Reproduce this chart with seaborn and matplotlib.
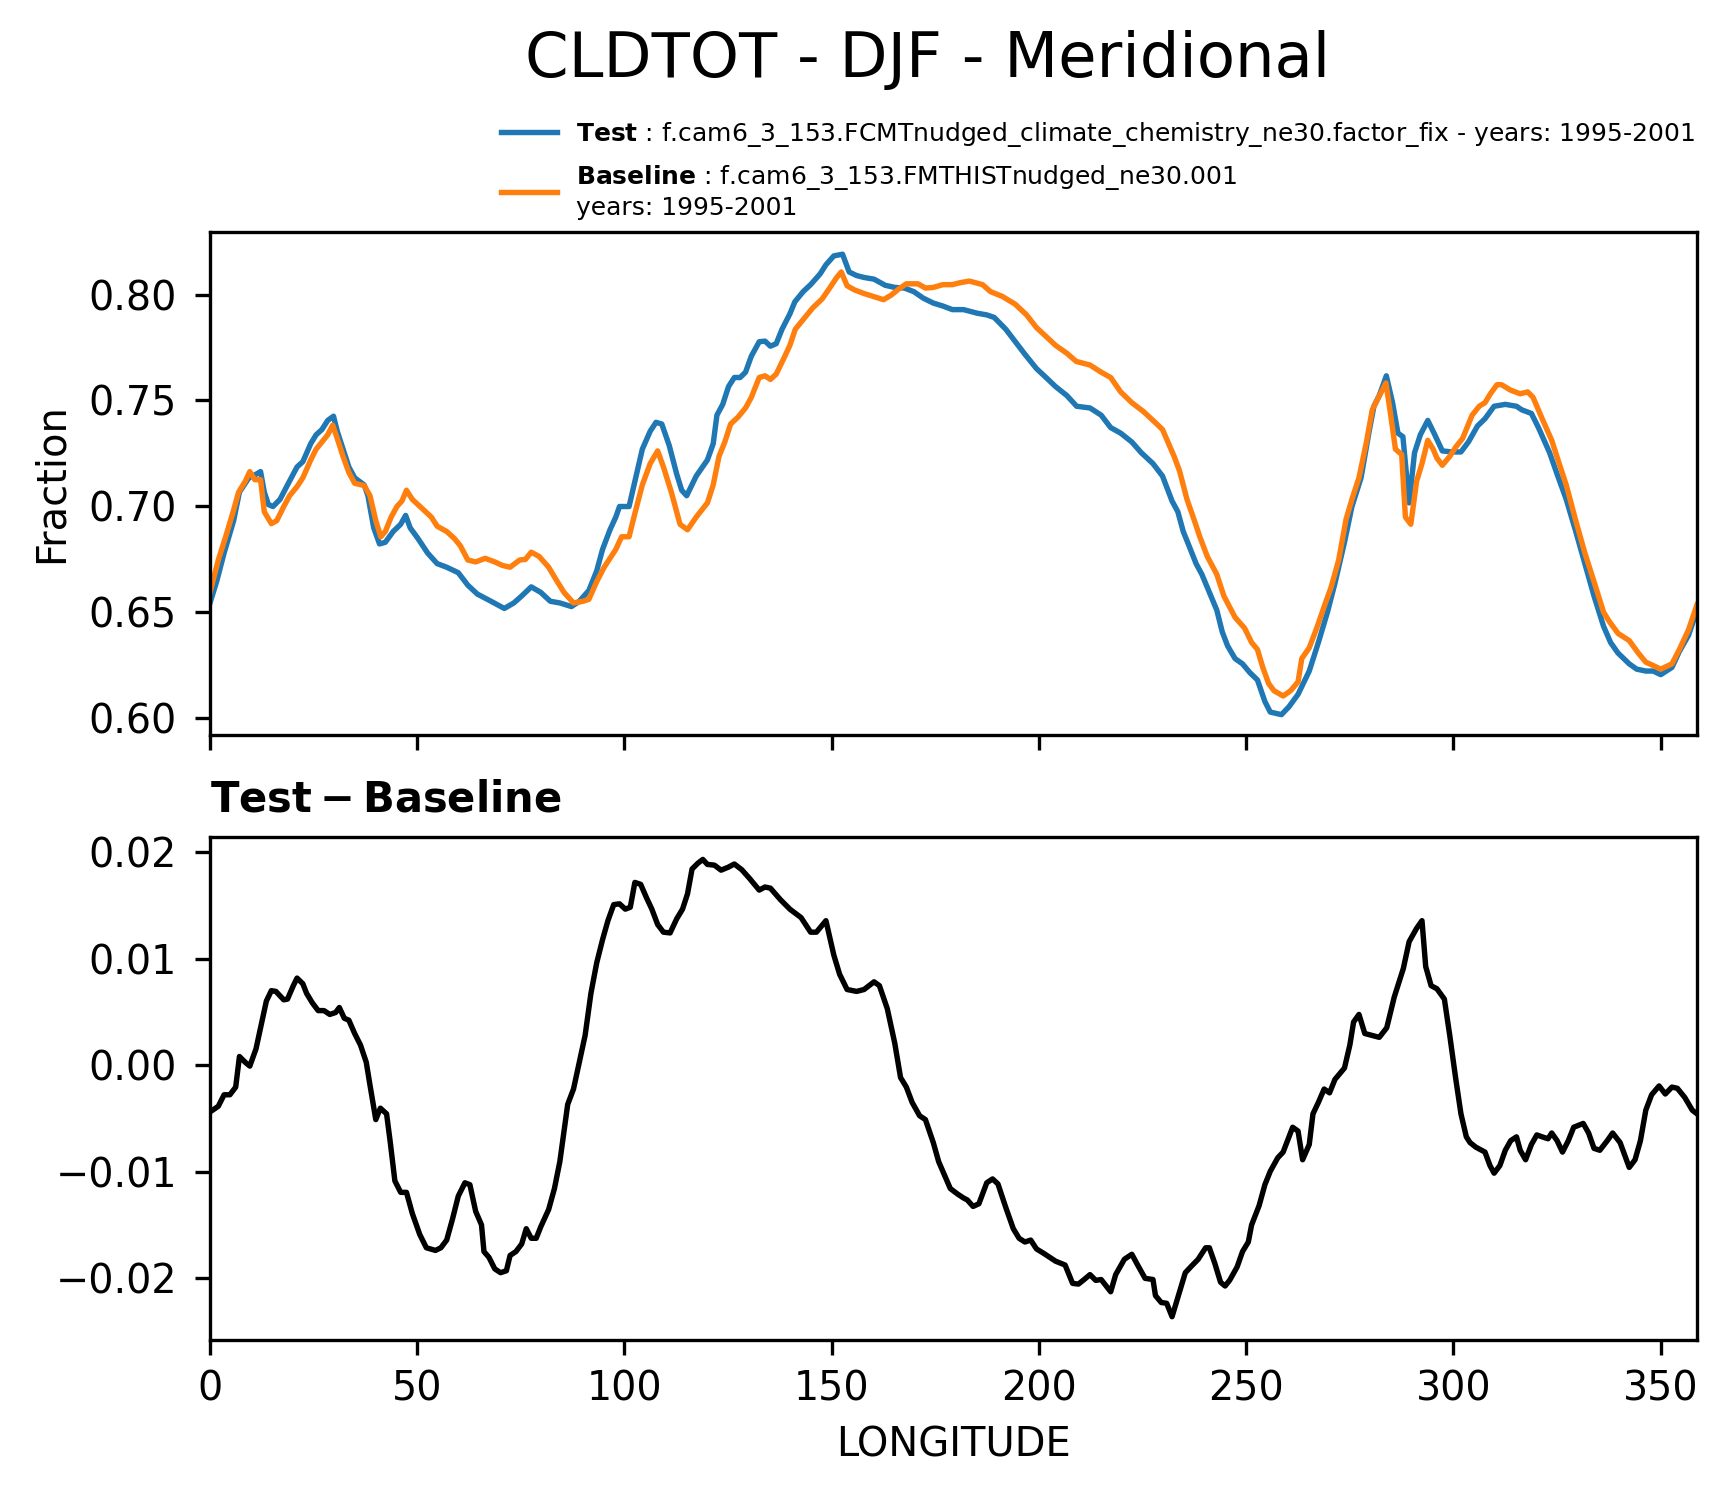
import numpy as np
import pandas as pd
import matplotlib
matplotlib.use("Agg")
import matplotlib.pyplot as plt
import seaborn as sns

# ---------------- data ----------------
test_lon = [0, 1.6, 3.4, 5.7, 7.1, 9.4, 10.8, 12.2, 13.1, 14.1, 15.2, 16.9, 18.7, 21.0, 22.4, 24.3, 25.6,
            27.0, 28.4, 29.8, 30.7, 32.1, 33.5, 34.9, 37.2, 38.1, 39.5, 40.9, 42.3, 44.2, 46.0, 47.2, 48.3,
            50.2, 52.5, 54.8, 57.1, 59.9, 62.2, 64.5, 67.8, 71.0, 73.3, 75.2, 77.5, 79.8, 82.1, 84.4, 87.2,
            89.1, 91.4,
            93.3, 94.7, 96.5, 97.9, 98.8, 101.1, 102.5, 104.3, 106.2, 107.6, 109.0, 110.8, 112.6, 113.8,
            115.0, 117.3, 120.0, 121.4, 122.3, 123.7, 125.1, 126.5, 127.9, 129.2, 130.6, 132.5, 133.9, 135.2,
            136.6, 138.0, 139.9, 141.1, 143.1, 144.9, 147.2, 148.6, 150.5, 152.6, 154.2, 156.0, 157.8, 160.2,
            162.9, 165.2, 167.5, 169.8, 172.1, 174.5, 176.8, 179.1, 181.8, 185.1, 187.4, 189.2, 192.0, 194.3,
            196.6, 199.4, 201.7, 204.0, 206.7, 209.1, 212.3, 215.0, 217.3, 219.7, 222.4, 224.7, 227.5, 229.8,
            232.1, 233.5, 234.8, 236.2, 237.9, 239.3, 241.1, 242.9, 244.2, 245.5, 247.3, 249.1, 250.9, 252.7,
            254.5, 255.8, 258.5, 260.3, 262.5, 265.2, 267.4, 269.6, 271.4, 273.7, 275.5, 277.7, 279.5, 280.8,
            282.1, 283.8, 285.3, 286.6, 287.8, 289.3, 290.6, 292.0, 293.8, 295.5, 297.3, 299.6, 301.8, 303.6,
            305.8, 307.6, 309.8, 312.5, 315.2, 316.5, 318.8, 320.5, 323.2, 325.0, 327.2, 329.5, 331.7, 333.9,
            336.2, 337.9, 339.7, 342.4, 344.2, 346.4, 348.2, 350.0, 352.7, 354.5, 356.7, 358.75]
test_frac = [0.6542, 0.6643, 0.6778, 0.6931, 0.7066, 0.7134, 0.7147, 0.7163, 0.7066, 0.7007, 0.6998, 0.7032,
             0.7100, 0.7185, 0.7210, 0.7295, 0.7337, 0.7362, 0.7405, 0.7425, 0.7354, 0.7269, 0.7185, 0.7134,
             0.7100, 0.7049, 0.6897, 0.6821, 0.6829, 0.6880, 0.6914, 0.6956, 0.6897, 0.6846, 0.6778, 0.6728,
             0.6711, 0.6685, 0.6626, 0.6584, 0.6550, 0.6516, 0.6542, 0.6575, 0.6618, 0.6592, 0.6550, 0.6542,
             0.6525, 0.6550, 0.6601,
             0.6694, 0.6795, 0.6888, 0.6948, 0.6998, 0.6998, 0.7117, 0.7269, 0.7354, 0.7396, 0.7388, 0.7286,
             0.7151, 0.7075, 0.7049, 0.7142, 0.7218, 0.7295, 0.7430, 0.7481, 0.7565, 0.7608, 0.7608, 0.7633,
             0.7709, 0.7777, 0.7780, 0.7756, 0.7768, 0.7836, 0.7909, 0.7966, 0.8014, 0.8047, 0.8098, 0.8141,
             0.8183, 0.8191, 0.8107, 0.8090, 0.8081, 0.8073, 0.8044, 0.8034, 0.8031, 0.8014, 0.7983, 0.7960,
             0.7946, 0.7929, 0.7929, 0.7912, 0.7904, 0.7892, 0.7836, 0.7777, 0.7718, 0.7650, 0.7608, 0.7565,
             0.7523, 0.7472, 0.7464, 0.7430, 0.7371, 0.7345, 0.7303, 0.7252, 0.7201, 0.7142,
             0.7024, 0.6973, 0.6880, 0.6812, 0.6728, 0.6677, 0.6592, 0.6508, 0.6406, 0.6339, 0.6279, 0.6254,
             0.6212, 0.6178, 0.6076, 0.6026, 0.6014, 0.6051, 0.6110, 0.6220, 0.6355, 0.6499, 0.6635, 0.6829,
             0.6998, 0.7134, 0.7337, 0.7472, 0.7523, 0.7616, 0.7489, 0.7345, 0.7328, 0.7015, 0.7252, 0.7337,
             0.7405, 0.7337, 0.7261, 0.7256, 0.7256, 0.7303, 0.7379, 0.7413, 0.7472, 0.7481, 0.7472, 0.7455,
             0.7438, 0.7371, 0.7252, 0.7151, 0.7032, 0.6880, 0.6728, 0.6575, 0.6432, 0.6355, 0.6305, 0.6254,
             0.6229, 0.6220, 0.6220, 0.6203, 0.6237, 0.6313, 0.6389, 0.6508]

base_lon = [0, 2.0, 3.9, 5.7, 6.9, 8.5, 9.6, 10.8, 12.2, 13.1, 14.8, 16.1, 17.8, 19.2, 21.0, 22.4, 24.3, 25.6,
            27.0, 28.4, 29.6, 30.7, 32.1, 33.5, 34.9, 37.2, 38.6, 40.0, 41.2, 42.3, 43.7, 45.1, 46.3, 47.4,
            48.8, 51.1, 53.4, 54.8, 57.1, 59.0, 60.4, 62.2, 64.1, 66.4, 68.7, 70.6, 72.4, 74.7, 76.1, 77.5,
            79.4, 81.7, 83.5, 85.4, 87.7, 90.0, 91.4,
            93.3, 95.1, 97.9, 99.3, 101.1, 102.5, 104.3, 106.2, 108.0, 109.4, 111.3, 113.4, 115.2, 117.3,
            120.0, 121.4, 122.8, 124.2, 125.6, 127.4, 129.2, 130.6, 132.5, 133.9, 135.2, 136.6, 138.5, 139.9,
            141.2, 143.1, 145.4, 147.7, 149.5, 151.2, 152.3, 153.7, 155.5, 157.8, 160.6, 162.5, 164.3, 166.2,
            168.0, 170.8, 172.6, 174.5, 176.8, 179.1, 180.9, 183.2, 186.4, 188.3, 191.1, 194.3, 197.0, 199.4,
            201.7, 204.0, 206.7, 209.0, 212.3, 215.0, 217.3, 219.7, 222.4, 225.2, 228.0, 229.8,
            232.6, 233.9, 235.7, 237.5, 238.8, 240.6, 242.9, 244.6, 247.3, 249.6, 251.3, 252.7, 254.0, 255.4,
            256.7, 258.9, 260.7, 262.5, 263.4, 265.2, 267.0, 268.8, 270.5, 272.3, 274.1, 275.5, 277.2, 279.0,
            280.4, 281.7, 283.7, 284.8, 286.0, 287.5, 288.4, 289.7, 291.1, 292.4, 293.8, 295.1, 296.0, 297.3,
            299.1, 300.5, 302.2, 304.5, 306.2, 307.6, 308.9, 310.5, 311.6, 313.8, 316.1, 317.9, 319.2, 321.4,
            323.7, 325.5, 327.2, 329.5, 331.7, 333.9, 336.2, 337.5, 339.7, 342.4, 344.6, 346.4, 348.2, 350.0,
            352.7, 354.5, 356.7, 358.75]
base_frac = [0.6592, 0.6745, 0.6863, 0.6981, 0.7066, 0.7117, 0.7163, 0.7125, 0.7125, 0.6973, 0.6917, 0.6931,
             0.6998, 0.7049, 0.7092, 0.7134, 0.7218, 0.7269, 0.7303, 0.7337, 0.7383, 0.7320, 0.7235, 0.7159,
             0.7108, 0.7097, 0.7049, 0.6931, 0.6855, 0.6880, 0.6948, 0.6998, 0.7024, 0.7075, 0.7032, 0.6990,
             0.6948, 0.6905, 0.6880, 0.6846, 0.6812, 0.6745, 0.6736, 0.6753, 0.6736, 0.6719, 0.6711, 0.6745,
             0.6748, 0.6782, 0.6762, 0.6711, 0.6652, 0.6592, 0.6542, 0.6550, 0.6559,
             0.6643, 0.6711, 0.6795, 0.6855, 0.6855, 0.6965, 0.7100, 0.7201, 0.7261, 0.7185, 0.7066, 0.6914,
             0.6888, 0.6948, 0.7015, 0.7100, 0.7235, 0.7303, 0.7388, 0.7421, 0.7464, 0.7514, 0.7608, 0.7616,
             0.7599, 0.7624, 0.7701, 0.7760, 0.7836, 0.7882, 0.7937, 0.7980, 0.8031, 0.8081, 0.8107, 0.8042,
             0.8022, 0.8005, 0.7988, 0.7976, 0.7997, 0.8027, 0.8051, 0.8051, 0.8031, 0.8034, 0.8047, 0.8047,
             0.8056, 0.8064, 0.8047, 0.8014, 0.7992, 0.7954, 0.7904, 0.7844, 0.7802, 0.7760, 0.7723, 0.7684,
             0.7667, 0.7633, 0.7608, 0.7540, 0.7489, 0.7447, 0.7396, 0.7362,
             0.7235, 0.7167, 0.7032, 0.6931, 0.6855, 0.6762, 0.6677, 0.6575, 0.6474, 0.6423, 0.6355, 0.6322,
             0.6237, 0.6161, 0.6127, 0.6102, 0.6127, 0.6169, 0.6279, 0.6330, 0.6423, 0.6525, 0.6618, 0.6745,
             0.6939, 0.7032, 0.7134, 0.7303, 0.7455, 0.7506, 0.7582, 0.7438, 0.7269, 0.7244, 0.6948, 0.6914,
             0.7117, 0.7201, 0.7311, 0.7269, 0.7227, 0.7193, 0.7235, 0.7278, 0.7320, 0.7430, 0.7472, 0.7489,
             0.7531, 0.7574, 0.7574, 0.7548, 0.7531, 0.7540, 0.7514, 0.7413, 0.7311, 0.7201, 0.7100, 0.6931,
             0.6778, 0.6643, 0.6499, 0.6457, 0.6398, 0.6364, 0.6305, 0.6262, 0.6246, 0.6229, 0.6254, 0.6322,
             0.6415, 0.6533]

diff_lon = [0, 2.0, 3.4, 4.8, 6.2, 7.1, 8.5, 9.6, 11.1, 12.2, 13.6, 14.8, 15.9, 17.8, 18.7, 20.1, 21.0, 22.4,
            23.3, 24.7, 26.1, 27.5, 28.9, 30.3, 31.2, 32.4, 33.5, 34.9, 36.3, 37.7, 38.6, 40.0, 41.1, 42.6,
            43.5, 44.6, 46.0, 47.4, 48.8, 50.6, 52.2, 54.4, 55.7, 57.1, 58.5, 59.9, 61.5, 62.7, 64.1, 65.5,
            66.1, 67.3, 68.7, 70.1, 71.5, 72.4, 73.8, 75.2, 76.3, 77.5, 78.7, 79.8, 81.7, 83.1, 84.4, 85.4,
            86.3, 87.7, 89.1, 90.5, 91.4,
            91.9, 93.3, 94.7, 96.0, 97.4, 98.8, 100.2, 101.4, 102.5, 103.9, 105.3, 106.6, 108.0, 109.4, 111.0,
            112.6, 114.0, 115.2, 116.3, 117.7, 118.9, 120.0, 121.7, 123.3, 125.1, 126.5, 128.3, 130.2, 132.5,
            133.9, 135.2, 137.6, 139.9, 142.6, 144.9, 146.3, 148.6, 150.5, 151.9, 153.7, 156.0, 157.8, 160.2,
            161.5, 163.4, 165.2, 166.6, 168.0, 169.4, 171.2, 172.6, 174.5, 175.8, 177.2, 178.6, 180.4, 181.8,
            182.7, 184.1, 185.5, 187.4, 188.8, 190.1, 192.0, 193.8, 195.2, 196.6, 198.0, 199.4, 201.2, 204.0,
            206.3, 208.1, 209.5, 210.9, 212.3, 213.7, 215.0, 217.3, 218.5, 220.6, 222.4, 223.8, 225.6, 227.5,
            228.1, 229.5, 230.8, 232.1, 233.5, 235.3, 236.6, 238.4, 240.2, 241.1, 242.4, 243.8, 244.9, 246.0,
            247.8, 249.1, 250.5, 251.3, 253.1, 254.5, 255.8, 257.6, 258.9, 260.3, 261.2, 262.5, 263.6, 265.2,
            266.1, 267.4, 268.8, 270.1, 271.4, 273.7, 275.0, 275.9, 277.2, 278.6, 280.4, 282.1, 283.9, 285.7,
            287.9, 289.3, 291.1, 292.4, 293.3, 294.6, 296.0, 297.8, 299.1, 300.5, 301.8, 303.1, 304.0, 305.4,
            307.6, 308.8, 309.8, 311.2, 312.5, 313.8, 315.2, 316.1, 317.4, 318.8, 320.1, 321.4, 322.8, 323.7,
            325.0, 326.3, 327.7, 329.0, 331.3, 332.6, 333.9, 335.3, 337.1, 338.4, 340.2, 342.4, 343.8, 345.1,
            346.4, 347.8, 349.6, 351.1, 352.7, 354.0, 355.8, 357.6, 358.75]
diff_val = [-0.00438, -0.00385, -0.00277, -0.00277, -0.00205, 0.00082, 0.00028, -0.00008, 0.00154, 0.00352,
            0.00603, 0.00700, 0.00693, 0.00614, 0.00621, 0.00747, 0.00818, 0.00765, 0.00675, 0.00585,
            0.00513, 0.00513, 0.00477, 0.00495, 0.00542, 0.00441, 0.00423, 0.00298, 0.00190, 0.00028,
            -0.00187, -0.00510, -0.00403, -0.00456, -0.00726, -0.01085, -0.01193, -0.01193, -0.01390, -0.01588,
            -0.01713, -0.01738, -0.01713, -0.01641, -0.01444, -0.01228, -0.01103, -0.01121, -0.01372, -0.01498,
            -0.01749, -0.01803, -0.01911, -0.01947, -0.01929, -0.01785, -0.01749, -0.01677, -0.01534, -0.01624,
            -0.01624, -0.01516, -0.01354, -0.01157, -0.00905, -0.00618, -0.00367, -0.00223, 0.00028, 0.00280,
            0.00531,
            0.00675, 0.00962, 0.01178, 0.01357, 0.01508, 0.01515, 0.01465, 0.01483, 0.01716, 0.01698,
            0.01573, 0.01465, 0.01321, 0.01249, 0.01242, 0.01375, 0.01465, 0.01608, 0.01842, 0.01896,
            0.01932, 0.01885, 0.01878, 0.01831, 0.01860, 0.01889, 0.01835, 0.01752, 0.01644, 0.01673,
            0.01662, 0.01555, 0.01465, 0.01386, 0.01249, 0.01249, 0.01357, 0.01034, 0.00854, 0.00711,
            0.00693, 0.00711, 0.00783, 0.00747, 0.00531, 0.00208, -0.00115, -0.00205, -0.00349, -0.00474,
            -0.00510, -0.00726, -0.00905, -0.01031, -0.01157, -0.01210, -0.01246, -0.01264, -0.01325, -0.01300,
            -0.01103, -0.01067, -0.01114, -0.01336, -0.01534, -0.01624, -0.01659, -0.01641, -0.01724, -0.01767,
            -0.01839, -0.01875, -0.02047, -0.02054, -0.02011, -0.01965, -0.02019, -0.02011, -0.02126, -0.01965,
            -0.01821, -0.01774, -0.01875, -0.02000, -0.02011,
            -0.02162, -0.02227, -0.02234, -0.02360, -0.02180, -0.01947, -0.01893, -0.01821, -0.01713, -0.01713,
            -0.01857, -0.02036, -0.02072, -0.02018, -0.01893, -0.01749, -0.01659, -0.01498, -0.01318, -0.01121,
            -0.00995, -0.00869, -0.00815, -0.00672, -0.00582, -0.00618, -0.00887, -0.00744, -0.00456, -0.00349,
            -0.00223, -0.00259, -0.00133, -0.00026, 0.00190, 0.00406, 0.00477, 0.00298, 0.00280, 0.00262,
            0.00352, 0.00639, 0.00908, 0.01160, 0.01285, 0.01357, 0.00926, 0.00747, 0.00718, 0.00621,
            0.00280, -0.00115, -0.00456, -0.00672, -0.00726, -0.00769, -0.00815, -0.00941, -0.01013, -0.00941,
            -0.00798, -0.00708, -0.00672, -0.00798, -0.00887, -0.00744, -0.00654, -0.00672, -0.00690, -0.00636,
            -0.00708, -0.00815, -0.00708, -0.00582, -0.00546, -0.00636, -0.00780, -0.00798, -0.00708, -0.00636,
            -0.00726, -0.00959, -0.00887, -0.00708, -0.00421, -0.00277, -0.00194, -0.00270, -0.00205, -0.00216,
            -0.00302, -0.00421, -0.00456]

xticks = [0, 50, 100, 150, 200, 250, 300, 350]
top_yticks = [0.60, 0.65, 0.70, 0.75, 0.80]
bot_yticks = [-0.02, -0.01, 0.00, 0.01, 0.02]

title = "CLDTOT - DJF - Meridional"
test_label = r"$\bf{Test}$ : f.cam6_3_153.FCMTnudged_climate_chemistry_ne30.factor_fix - years: 1995-2001"
base_label = r"$\bf{Baseline}$ : f.cam6_3_153.FMTHISTnudged_ne30.001" + "\nyears: 1995-2001"
diff_title = r"$\bf{Test - Baseline}$"

# ---------------- figure ----------------
plt.rcParams['font.family'] = ['DejaVu Sans']
plt.rcParams['mathtext.fontset'] = 'dejavusans'

W, H = 1730, 1496
fig = plt.figure(figsize=(W / 300, H / 300), dpi=300)
ax1 = fig.add_axes([210 / W, 1 - 734.5 / H, 1487 / W, 502.5 / H])
ax2 = fig.add_axes([210 / W, 1 - 1339.5 / H, 1487 / W, 503 / H])

df_test = pd.DataFrame({"lon": test_lon, "val": test_frac})
df_base = pd.DataFrame({"lon": base_lon, "val": base_frac})
df_diff = pd.DataFrame({"lon": diff_lon, "val": diff_val})

lw = 1.3
sns.lineplot(data=df_test, x="lon", y="val", ax=ax1, color="#1f77b4", lw=lw,
             label=test_label, legend=False, sort=False)
sns.lineplot(data=df_base, x="lon", y="val", ax=ax1, color="#ff7f0e", lw=lw,
             label=base_label, legend=False, sort=False)
sns.lineplot(data=df_diff, x="lon", y="val", ax=ax2, color="black", lw=lw,
             legend=False, sort=False)

tick_fs = 9.5
for ax in (ax1, ax2):
    ax.set_xlim(0, 358.75)
    ax.set_xticks(xticks)
    ax.tick_params(axis="both", labelsize=tick_fs, length=3.6, width=0.8, direction="out")
    ax.tick_params(axis="y", pad=4.3)
    for s in ax.spines.values():
        s.set_linewidth(0.8)
        s.set_color("black")

ax1.set_ylim(0.5920, 0.8296)
ax1.set_yticks(top_yticks)
ax1.tick_params(axis="x", labelbottom=False)
ax1.set_xlabel("")
ax1.set_ylabel("Fraction", fontsize=9.6)

ax2.set_ylim(-0.02574, 0.02147)
ax2.set_yticks(bot_yticks)
ax2.set_xlabel("LONGITUDE", fontsize=9.6)
ax2.set_ylabel("")
ax2.set_title(diff_title, loc="left", fontsize=10)

fig.text(928 / W, 1 - 77 / H, title, ha="center", va="baseline", fontsize=15)

handles, labels = ax1.get_legend_handles_labels()
fig.legend(handles, labels, loc="upper left", bbox_to_anchor=(501 / W, 1 - 120 / H),
           frameon=False, fontsize=6.0, borderpad=0, borderaxespad=0,
           handlelength=2.25, handletextpad=0.75, labelspacing=0.55)

fig.savefig("out.png", dpi=300)
